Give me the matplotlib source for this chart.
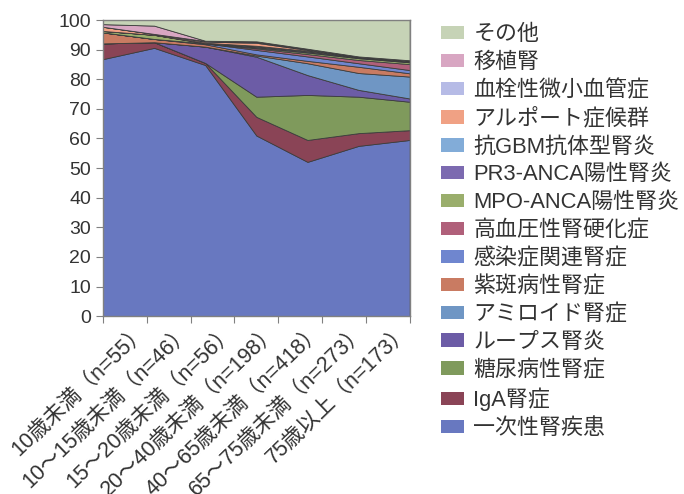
import matplotlib
matplotlib.use("Agg")
import matplotlib.pyplot as plt
from matplotlib.patches import Patch
from matplotlib.transforms import ScaledTranslation
import numpy as np

plt.rcParams['font.family'] = ['Liberation Sans', 'Noto Sans CJK JP']

categories = ['10歳未満（n=55）', '10～15歳未満（n=46）', '15～20歳未満（n=56）',
              '20～40歳未満（n=198）', '40～65歳未満（n=418）', '65～75歳未満（n=273）',
              '75歳以上（n=173）']

# 下から積み上げる順
primary   = [86.8, 90.6, 84.8, 61.0, 52.1, 57.5, 59.5]
iga       = [5.3, 1.9, 0.7, 6.3, 7.4, 4.3, 3.3]
diabetic  = [0, 0, 0, 6.8, 15.2, 12.3, 9.6]
lupus     = [0, 0, 5.5, 13.5, 6.7, 2.3, 1.1]
amyloid   = [0, 0, 0, 0.4, 4.0, 5.7, 7.4]
purpura   = [3.7, 1.1, 0.8, 0.4, 0.8, 2.1, 1.1]
infection = [0, 0, 0.3, 1.5, 1.5, 1.2, 1.1]
hypert    = [0, 0, 0, 0.5, 0.8, 1.1, 2.0]
mpo       = [0.5, 1.4, 0, 0.3, 0.5, 0.6, 0.6]
pr3       = [0, 0, 0.2, 0.3, 0.3, 0.2, 0.2]
gbm       = [0, 0, 0, 0.3, 0.3, 0.1, 0.1]
alport    = [1.4, 0.3, 0.4, 1.0, 0.3, 0.1, 0.1]
tma       = [0, 0, 0.2, 0.3, 0.2, 0.1, 0.2]
transpl   = [0.9, 2.8, 0.1, 0.2, 0.2, 0.1, 0.1]
other     = [1.4, 1.9, 7.0, 7.2, 9.7, 12.3, 13.6]

series = [primary, iga, diabetic, lupus, amyloid, purpura, infection, hypert,
          mpo, pr3, gbm, alport, tma, transpl, other]
names = ['一次性腎疾患', 'IgA腎症', '糖尿病性腎症', 'ループス腎炎', 'アミロイド腎症',
         '紫斑病性腎症', '感染症関連腎症', '高血圧性腎硬化症', 'MPO-ANCA陽性腎炎',
         'PR3-ANCA陽性腎炎', '抗GBM抗体型腎炎', 'アルポート症候群', '血栓性微小血管症',
         '移植腎', 'その他']
colors = ['#6878c0', '#8a4456', '#7f9a5c', '#6c5ca6', '#6f96c4', '#c97b62',
          '#6f86cf', '#b0607a', '#9aae6c', '#7c6ab0', '#82acd8', '#f0a184',
          '#b6bbe6', '#d8a6c2', '#c6d3b6']

fig = plt.figure(figsize=(6.84, 4.94), dpi=100)
ax = fig.add_axes([0.1506, 0.360, 0.4484, 0.5995])

x = np.arange(len(categories))
ax.stackplot(x, *series, colors=colors, edgecolor='#3c3c3c', linewidth=0.6)

ax.set_xlim(0, 6)
ax.set_ylim(0, 100)
ax.set_yticks(np.arange(0, 101, 10))
ax.tick_params(axis='y', labelsize=14, colors='#808080', labelcolor='#333333',
               length=5, direction='out')

edges = np.linspace(0, 6, 8)
ax.set_xticks(edges)
ax.set_xticklabels([])
ax.set_xticks((edges[:-1] + edges[1:]) / 2, minor=True)
ax.set_xticklabels(categories, minor=True, rotation=44, ha='right', va='top',
                   rotation_mode='anchor', fontsize=15.5, color='#333333')
ax.tick_params(axis='x', which='major', length=5, colors='#808080', direction='out')
ax.tick_params(axis='x', which='minor', length=0, pad=3)
shift = ScaledTranslation(0.12, 0, fig.dpi_scale_trans)
for lab in ax.get_xticklabels(minor=True):
    lab.set_transform(lab.get_transform() + shift)

for s in ax.spines.values():
    s.set_color('#808080')
    s.set_linewidth(1)

handles = [Patch(facecolor=c, edgecolor='none') for c in colors]
fig.legend(handles[::-1], names[::-1], loc='upper left', bbox_to_anchor=(0.628, 0.973),
           frameon=False, fontsize=15.8, handlelength=1.05, handleheight=0.58,
           handletextpad=0.45, labelspacing=0.31, borderpad=0, labelcolor='#333333')

fig.savefig('out.png', dpi=100)
